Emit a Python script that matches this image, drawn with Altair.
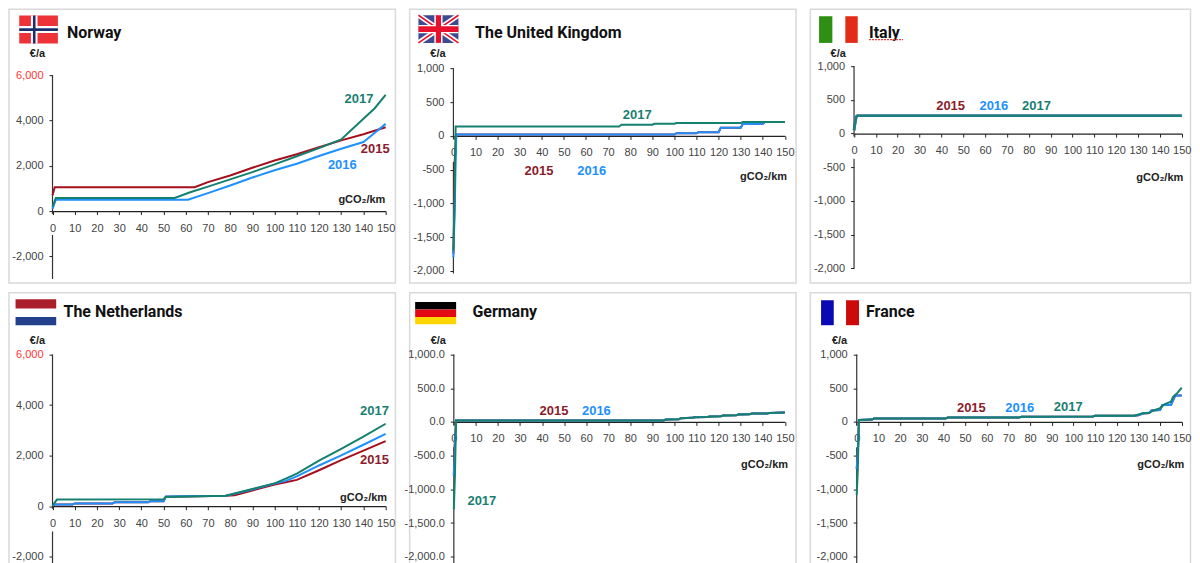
import altair as alt
import pandas as pd

YEARS = ["2015", "2016", "2017"]
YEAR_COLORS = ["#a50f1c", "#1e90ff", "#14806e"]
LABEL_COLORS = {"2015": "#8c1c2b", "2016": "#1e90ff", "2017": "#1a7f71"}
X_TICKS = list(range(0, 151, 10))

# ---------- series values: (gCO2/km, EUR/a) ----------
NO_2015 = [(0, 700), (1, 1050), (64, 1050), (70, 1280), (80, 1570), (90, 1910), (100, 2230), (110, 2510), (120, 2820), (130, 3120), (140, 3390), (150, 3700)]
NO_2016 = [(0, 100), (1.5, 500), (61, 500), (70, 790), (80, 1130), (90, 1480), (100, 1800), (110, 2090), (120, 2430), (130, 2750), (140, 3050), (145, 3450), (150, 3850)]
NO_2017 = [(0, 200), (1.5, 580), (55, 580), (62, 830), (70, 1080), (80, 1400), (90, 1720), (100, 2060), (110, 2420), (120, 2780), (130, 3160), (140, 4080), (145, 4530), (150, 5130)]

UK_2015 = [(0, -1750), (0.4, -1050), (0.6, -370), (1.3, 20), (100, 20), (101, 40), (110, 40), (111, 55), (120, 55), (121, 120), (130, 120), (131, 175), (140, 180), (141, 205), (150, 205)]
UK_2016 = [(0, -1800), (0.6, -1050), (1, -400), (1.3, 20), (100, 20), (101, 40), (110, 40), (111, 55), (120, 55), (121, 120), (130, 120), (131, 175), (140, 180), (141, 205), (150, 205)]
UK_2017 = [(0, -1700), (0.5, -1000), (1, 140), (75, 140), (76, 165), (90, 165), (91, 180), (100, 180), (101, 190), (130, 190), (131, 205), (150, 205)]

IT_2015 = [(0, 50), (0.5, 160), (1, 250), (1.5, 265), (150, 265)]
IT_2016 = [(0, 50), (0.5, 160), (1, 250), (1.5, 265), (150, 265)]
IT_2017 = [(0, 50), (0.5, 160), (1, 250), (1.5, 265), (150, 265)]

NL_2015 = [(0, 20), (1, 70), (9, 70), (10, 110), (27, 110), (28, 150), (43, 150), (44, 190), (50, 190), (51, 370), (78, 410), (82, 430), (90, 620), (100, 860), (105, 950), (110, 1040), (120, 1420), (130, 1820), (140, 2200), (150, 2570)]
NL_2016 = [(0, 20), (1, 70), (9, 70), (10, 110), (27, 110), (28, 150), (43, 150), (44, 190), (50, 190), (51, 380), (78, 410), (80, 450), (90, 660), (100, 900), (105, 1000), (110, 1180), (120, 1610), (130, 2010), (140, 2430), (150, 2860)]
NL_2017 = [(0, 20), (2, 260), (50, 270), (51, 360), (78, 410), (85, 570), (90, 680), (100, 900), (105, 1090), (110, 1290), (120, 1800), (130, 2270), (140, 2750), (150, 3260)]

DE_2015 = [(0, -800), (0.3, -380), (1, 20), (95, 20), (96, 35), (102, 40), (103, 55), (108, 60), (109, 70), (115, 72), (116, 80), (121, 85), (122, 95), (128, 100), (129, 110), (134, 112), (135, 125), (142, 125), (143, 132), (150, 140)]
DE_2016 = [(0, -800), (0.5, -380), (1, 20), (95, 20), (96, 35), (102, 40), (103, 55), (108, 60), (109, 70), (115, 72), (116, 80), (121, 85), (122, 95), (128, 100), (129, 110), (134, 112), (135, 125), (142, 125), (143, 132), (150, 140)]
DE_2017 = [(0, -1300), (0.5, -800), (1, 20), (95, 20), (96, 35), (102, 40), (103, 55), (108, 60), (109, 70), (115, 72), (116, 80), (121, 85), (122, 95), (128, 100), (129, 110), (134, 112), (135, 125), (142, 125), (143, 132), (150, 140)]

FR_2015 = [(0, -700), (0.6, -380), (1, 30), (7, 35), (8, 50), (41, 50), (42, 65), (75, 65), (76, 78), (109, 80), (110, 92), (128, 92), (130, 100), (132, 125), (135, 130), (136, 170), (140, 175), (141, 250), (145, 250), (147, 390), (150, 390)]
FR_2016 = [(0, -700), (0.6, -380), (1, 30), (7, 35), (8, 50), (41, 50), (42, 65), (75, 65), (76, 78), (109, 80), (110, 92), (128, 92), (130, 100), (132, 125), (135, 130), (136, 170), (140, 175), (141, 250), (145, 250), (147, 390), (150, 390)]
FR_2017 = [(0, -1080), (0.5, -700), (1, 30), (7, 35), (8, 50), (41, 50), (42, 65), (75, 65), (76, 78), (109, 80), (110, 92), (128, 92), (130, 110), (132, 130), (135, 135), (137, 170), (140, 205), (142, 260), (145, 300), (146, 370), (148, 430), (150, 510)]

# ---------- flag shapes: colour and pixel box inside the panel frame ----------
FLAG_NO = [("#ee3338", 10.25, 48.95, 6.3, 34.3), ("#ffffff", 21.95, 28.55, 6.3, 34.3), ("#ffffff", 10.25, 48.95, 16.7, 23.7),
           ("#1a2e6b", 23.95, 26.55, 6.3, 34.3), ("#1a2e6b", 10.25, 48.95, 19, 21.7)]
FLAG_UK_BG = [("#3d4a8f", 8.8, 48.8, 6, 33.7)]
FLAG_UK_DIAG = [("#ffffff", 5, 8.8, 6, 48.8, 33.7), ("#ffffff", 5, 8.8, 33.7, 48.8, 6),
                ("#e8112d", 1.6, 8.8, 6, 48.8, 33.7), ("#e8112d", 1.6, 8.8, 33.7, 48.8, 6)]
FLAG_UK_FG = [("#ffffff", 24.7, 32.9, 6, 33.7), ("#ffffff", 8.8, 48.8, 15.7, 24),
              ("#e8112d", 26.2, 31.4, 6, 33.7), ("#e8112d", 8.8, 48.8, 17, 22.8)]
FLAG_IT = [("#2f8f12", 8.75, 22.05, 7, 33.7), ("#e32c17", 35.05, 47.45, 7, 33.7)]
FLAG_NL = [("#ab1f2d", 6.55, 47.25, 6.5, 15.8), ("#22408c", 6.55, 47.25, 24.2, 32.5)]
FLAG_DE = [("#000000", 5.5, 46.5, 9.2, 16.7), ("#e30613", 5.5, 46.5, 16.7, 24.2), ("#ffd500", 5.5, 46.5, 24.2, 31.5)]
FLAG_FR = [("#0a0ab4", 10.75, 23.45, 7.5, 32.5), ("#cc0a0a", 35.75, 48.75, 7.5, 32.5)]

W_LEFT, W_MID, W_RIGHT, PANEL_H, GAP_X, GAP_Y = 386.75, 386.75, 380.5, 274, 14, 9.75


def panel(name, width, series, y_domain, y_ticks, y_fmt, x_range, y_range, labels, gco2, gap, bottom,
          axis_title_xy, title_xy, flag_rects, flag_diags=(), flag_front=(), red_top=False, squiggle=None,
          line_width=2, line_opacity=1):
    rows = [{"x": x, "y": y, "year": yr} for yr, pts in zip(YEARS, series) for x, y in pts]
    df = pd.DataFrame(rows)
    x_scale = alt.Scale(domain=[0, 150], range=x_range)
    y_scale = alt.Scale(domain=y_domain, range=y_range)
    color = alt.Color("year:N", scale=alt.Scale(domain=YEARS, range=YEAR_COLORS), legend=None)

    y_zero = y_range[0] - (0 - y_domain[0]) / (y_domain[1] - y_domain[0]) * (y_range[0] - y_range[1])
    x_axis = alt.Axis(values=X_TICKS, grid=False, labelAngle=0, labelOverlap=False, labelFlush=False,
                      offset=y_zero - PANEL_H, tickSize=3.5, tickColor="#222", domainColor="#222",
                      tickWidth=1, domainWidth=1.2, labelPadding=7.5, labelFontSize=11,
                      labelFont="Liberation Sans", labelColor="#444",
                      title="gCO\u2082/km", titleFont="Liberation Sans", titleFontSize=11, titleFontWeight="bold",
                      titleColor="#222", titleAlign="right", titleBaseline="middle", titleAngle=0,
                      titleX=gco2[0], titleY=gco2[1])
    label_color = ({"condition": {"test": "datum.value === 6000", "value": "#ff3333"}, "value": "#444"}
                   if red_top else "#444")
    y_axis = alt.Axis(values=y_ticks, grid=False, domain=False, offset=-x_range[0], tickSize=3.5,
                      tickColor="#222", tickWidth=1, labelPadding=6, labelFontSize=11,
                      labelFont="Liberation Sans", labelColor=label_color, labelFlush=False, labelOverlap=False,
                      labelExpr="replace(format(datum.value, '%s'), '\u2212', '-')" % y_fmt,
                      title="\u20ac/a", titleFont="Liberation Sans", titleFontSize=11, titleFontWeight="bold",
                      titleColor="#222", titleAngle=0, titleAlign="center", titleBaseline="middle",
                      titleX=axis_title_xy[0], titleY=axis_title_xy[1])
    X = alt.X("x:Q", scale=x_scale, axis=x_axis)
    Y = alt.Y("y:Q", scale=y_scale, axis=y_axis)

    axis_df = pd.DataFrame({"x": [0, 0], "y": [y_domain[1], gap[1]], "y2": [gap[0], bottom]})
    y_line = alt.Chart(axis_df).mark_rule(color="#333", strokeWidth=1.2).encode(x=X, y=Y, y2="y2:Q")

    lines = alt.Chart(df).mark_line(strokeWidth=line_width, opacity=line_opacity).encode(x=X, y=Y, color=color)

    lab_df = pd.DataFrame([{"x": x, "y": y, "year": yr, "ink": LABEL_COLORS[yr]} for yr, x, y in labels])
    year_text = alt.Chart(lab_df).mark_text(font="Liberation Sans", fontWeight="bold", fontSize=13,
                                            align="center", baseline="middle").encode(
        x=X, y=Y, text="year:N", color=alt.Color("ink:N", scale=None))

    title_mark = alt.Chart().mark_text(text=name, font="Roboto", fontSize=16, fontWeight="bold", color="#111",
                                       align="left", baseline="middle").encode(
        x=alt.value(title_xy[0]), y=alt.value(title_xy[1]))

    shapes = []
    for col, x1, x2, y1, y2 in flag_rects:
        shapes.append(alt.Chart().mark_rect(color=col).encode(
            x=alt.value(x1), x2=alt.value(x2), y=alt.value(y1), y2=alt.value(y2)))
    for col, w, x1, y1, x2, y2 in flag_diags:
        shapes.append(alt.Chart().mark_rule(color=col, strokeWidth=w).encode(
            x=alt.value(x1), x2=alt.value(x2), y=alt.value(y1), y2=alt.value(y2)))
    for col, x1, x2, y1, y2 in flag_front:
        shapes.append(alt.Chart().mark_rect(color=col).encode(
            x=alt.value(x1), x2=alt.value(x2), y=alt.value(y1), y2=alt.value(y2)))
    if squiggle:
        x1, x2, yy = squiggle
        shapes.append(alt.Chart().mark_rule(color="#e8433a", strokeWidth=1.2, strokeDash=[2, 1]).encode(
            x=alt.value(x1), x2=alt.value(x2), y=alt.value(yy)))

    return alt.layer(y_line, lines, year_text, title_mark, *shapes).properties(width=width, height=PANEL_H)


ALL_TICKS = [-2000, -1500, -1000, -500, 0, 500, 1000]
no = panel("Norway", W_LEFT, [NO_2015, NO_2016, NO_2017], [-3000, 6000], [-2000, 0, 2000, 4000, 6000], ",d",
           [43.55, 376.95], [270, 66],
           [("2017", 138, 4940), ("2015", 145.3, 2740), ("2016", 130.5, 2020)],
           (376.2, -12), (-132, -1058), -3000, (-15.6, 44.3), (57.95, 23.3), FLAG_NO, red_top=True)
uk = panel("The United Kingdom", W_MID, [UK_2015, UK_2016, UK_2017], [-2000, 1000], ALL_TICKS, ",d",
           [43.8, 375.5], [261.7, 59.3],
           [("2017", 83.2, 312), ("2015", 38.7, -525), ("2016", 62.6, -525)],
           (377.2, 41), (-50, -385), -2040, (-16, 44.3), (65.5, 23.3), FLAG_UK_BG, FLAG_UK_DIAG, FLAG_UK_FG)
it = panel("Italy", W_RIGHT, [IT_2015, IT_2016, IT_2017], [-2000, 1000], ALL_TICKS, ",d",
           [43.75, 371.75], [259.3, 57],
           [("2015", 44.2, 405), ("2016", 64, 405), ("2017", 83.5, 405)],
           (372.8, 43.7), (-45, -375), -2000, (-16.3, 44.3), (58.75, 23.3), FLAG_IT, squiggle=(58.75, 92.75, 30.5),
           line_width=2.6, line_opacity=0.8)
nl = panel("The Netherlands", W_LEFT, [NL_2015, NL_2016, NL_2017], [-2000, 6000], [-2000, 0, 2000, 4000, 6000], ",d",
           [43.55, 376.95], [264.2, 61.8],
           [("2017", 145, 3765), ("2015", 145, 1823)],
           (377.9, -8.7), (-105, -1000), -2300, (-15.6, 48.2), (54.55, 19.2), FLAG_NL, red_top=True)
de = panel("Germany", W_MID, [DE_2015, DE_2016, DE_2017], [-2000, 1000], ALL_TICKS, ",.1f",
           [44.2, 375.5], [264.2, 61.8],
           [("2015", 45.4, 159), ("2016", 64.6, 159), ("2017", 12.7, -1170)],
           (378.2, 42.3), (-50, -375), -2100, (-16, 48.2), (62.8, 19.2), FLAG_DE)
fr = panel("France", W_RIGHT, [FR_2015, FR_2016, FR_2017], [-2000, 1000], ALL_TICKS, ",d",
           [46.45, 371.75], [264.2, 61.8],
           [("2015", 52.9, 203), ("2016", 75.2, 203), ("2017", 97.6, 228)],
           (373.75, 42.3), (-50, -375), -2100, (-17.7, 48.2), (55.75, 19.2), FLAG_FR)

chart = alt.concat(no, uk, it, nl, de, fr, columns=3, spacing={"row": GAP_Y, "column": GAP_X},
                   bounds="flush", align="each").properties(
    padding={"left": 0, "top": 0, "right": 0, "bottom": 0}
).configure_view(stroke="#d9d9d9", strokeWidth=1.5)

chart.save("out.html", embed_options={"renderer": "svg", "actions": False})
